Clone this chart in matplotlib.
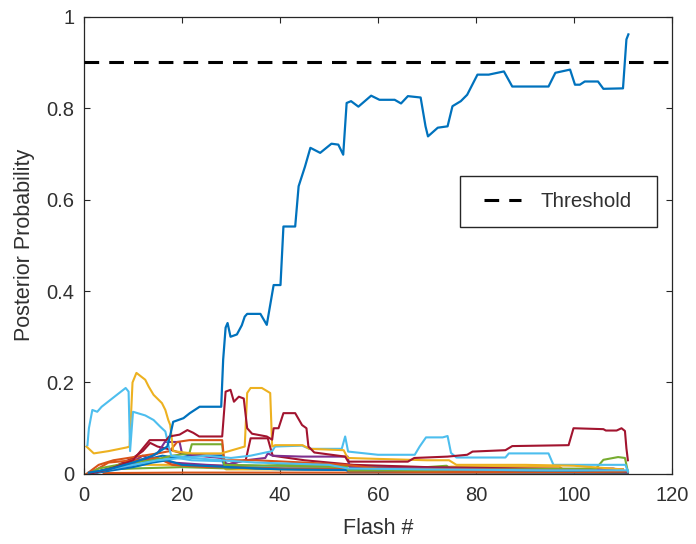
import numpy as np
import matplotlib
matplotlib.use("Agg")
import matplotlib.pyplot as plt
from matplotlib.patches import Rectangle

plt.rcParams['font.family'] = ['Liberation Sans', 'DejaVu Sans']

# MATLAB default line colours
C_BLUE = '#0072BD'
C_ORANGE = '#D95319'
C_YELLOW = '#EDB120'
C_PURPLE = '#7E2F8E'
C_GREEN = '#77AC30'
C_LBLUE = '#4DBEEE'
C_RED = '#A2142F'

threshold = 0.9

# target character posterior (flash #, probability)
target_x = [1, 5, 10, 14, 17, 17.6, 18.2, 20.3, 21.6, 23.6, 28.0, 28.4, 28.9, 29.3, 29.9,
            31.2, 32.2, 32.8, 33.3, 36.0, 37.3, 38.7, 40.1, 40.7, 43.1, 43.8, 45.1, 46.2,
            48.2, 50.5, 51.9, 52.9, 53.6, 54.5, 56.0, 58.6, 60.3, 63.4, 64.7, 66.1, 68.7,
            69.7, 70.2, 72.2, 74.2, 75.2, 76.9, 78.2, 80.3, 82.6, 85.7, 87.4, 94.8, 96.2,
            99.2, 100.2, 101.2, 102.2, 104.9, 106.0, 110.0, 110.7, 111.1]
target_y = [0.003, 0.01, 0.025, 0.04, 0.06, 0.085, 0.114, 0.122, 0.133, 0.147, 0.147, 0.25,
            0.32, 0.33, 0.30, 0.305, 0.325, 0.344, 0.35, 0.35, 0.326, 0.413, 0.413, 0.541,
            0.541, 0.629, 0.672, 0.713, 0.702, 0.722, 0.72, 0.698, 0.811, 0.815, 0.803, 0.827,
            0.818, 0.818, 0.81, 0.826, 0.823, 0.76, 0.738, 0.757, 0.76, 0.804, 0.815, 0.829,
            0.873, 0.873, 0.880, 0.847, 0.847, 0.877, 0.884, 0.851, 0.851, 0.858, 0.858,
            0.842, 0.843, 0.95, 0.961]

# non-target characters
lb1_x = [0.7, 1.0, 1.7, 2.7, 3.6, 6.7, 8.5, 9.1, 9.4, 10.0, 12.5, 14.2, 15.5, 16.6, 17.3,
         17.8, 22, 28, 35, 50, 53.9, 70, 95, 111]
lb1_y = [0.063, 0.10, 0.14, 0.136, 0.147, 0.173, 0.188, 0.18, 0.05, 0.136, 0.128, 0.118,
         0.104, 0.093, 0.06, 0.04, 0.035, 0.03, 0.025, 0.02, 0.012, 0.01, 0.008, 0.008]

lb2_x = [1, 5, 10, 15, 20, 25, 30, 34, 38.4, 39, 44.5, 46, 52.6, 53.3, 53.9, 60, 67.5, 68.5,
         69.8, 73.2, 74.2, 74.9, 76, 86, 86.7, 94.8, 95.8, 105, 110.5, 111]
lb2_y = [0.0, 0.01, 0.02, 0.03, 0.035, 0.04, 0.035, 0.04, 0.05, 0.06, 0.062, 0.055, 0.055,
         0.082, 0.049, 0.042, 0.042, 0.06, 0.08, 0.08, 0.083, 0.046, 0.036, 0.036, 0.045,
         0.045, 0.02, 0.02, 0.02, 0.005]

yl1_x = [0.5, 2, 5, 8.7, 9.3, 9.9, 10.7, 12.5, 13.2, 14.2, 15.9, 16.6, 17.2, 17.6, 18.2, 22,
         28, 32.8, 33.3, 34, 36.3, 38, 38.4, 39, 44.6, 46, 53, 53.8, 60, 70, 74.5, 76, 90,
         100, 110]
yl1_y = [0.06, 0.045, 0.05, 0.058, 0.06, 0.2, 0.221, 0.206, 0.191, 0.173, 0.155, 0.14, 0.118,
         0.107, 0.05, 0.045, 0.045, 0.06, 0.177, 0.188, 0.188, 0.177, 0.06, 0.063, 0.063,
         0.055, 0.052, 0.035, 0.033, 0.03, 0.03, 0.02, 0.02, 0.018, 0.01]

dr1_x = [1, 5, 10, 13.4, 16.8, 17.4, 19.5, 21.1, 22.3, 23.5, 28.2, 28.9, 29.9, 30.6, 31.6,
         32.6, 33.3, 34.3, 37.3, 38.4, 38.7, 39.7, 40.7, 43.1, 44.5, 45.4, 45.8, 47, 53.3,
         53.9, 66.1, 67.4, 74.2, 78.2, 79.3, 86, 87.4, 98.9, 99.9, 106, 106.5, 108.7, 109.7,
         110.4, 110.7, 111]
dr1_y = [0.0, 0.01, 0.03, 0.074, 0.074, 0.082, 0.086, 0.096, 0.09, 0.082, 0.082, 0.18, 0.184,
         0.158, 0.169, 0.165, 0.10, 0.088, 0.082, 0.075, 0.10, 0.10, 0.133, 0.133, 0.107,
         0.10, 0.06, 0.047, 0.038, 0.027, 0.027, 0.035, 0.038, 0.042, 0.049, 0.052, 0.061,
         0.063, 0.10, 0.098, 0.095, 0.095, 0.10, 0.094, 0.056, 0.03]

dr2_x = [1, 6, 10, 12, 13.5, 15, 17, 20, 25, 28.4, 29, 33, 34, 37.5, 38.5, 45, 55, 70, 90, 110]
dr2_y = [0.0, 0.015, 0.035, 0.05, 0.068, 0.06, 0.055, 0.045, 0.04, 0.04, 0.02, 0.03, 0.078,
         0.078, 0.04, 0.03, 0.02, 0.015, 0.012, 0.01]

or1_x = [4, 20, 40, 60, 80, 100, 111]
or1_y = [0.002, 0.003, 0.003, 0.003, 0.003, 0.003, 0.002]

or2_x = [0.5, 3, 6, 9, 12, 15, 17.5, 19, 21.5, 28.2, 28.6, 35, 45, 53.5, 60, 75, 100, 111]
or2_y = [0.0, 0.02, 0.03, 0.035, 0.04, 0.045, 0.05, 0.07, 0.074, 0.074, 0.03, 0.03, 0.025,
         0.02, 0.012, 0.01, 0.008, 0.006]

or3_x = [1, 5, 10, 15, 18, 25, 30, 40, 53.5, 54, 80, 111]
or3_y = [0.0, 0.025, 0.03, 0.035, 0.02, 0.015, 0.015, 0.012, 0.012, 0.005, 0.004, 0.004]

gr1_x = [0.5, 3, 7, 10, 14, 18, 21.5, 22, 28.2, 28.6, 40, 53.5, 54, 70, 104.5, 106, 109,
         110.4, 111]
gr1_y = [0.0, 0.012, 0.02, 0.025, 0.03, 0.04, 0.045, 0.065, 0.065, 0.02, 0.018, 0.015, 0.008,
         0.008, 0.012, 0.031, 0.037, 0.035, 0.005]

gr2_x = [1, 5, 10, 20, 30, 40, 50, 70, 74, 75, 90, 111]
gr2_y = [0.0, 0.01, 0.012, 0.015, 0.012, 0.02, 0.018, 0.015, 0.018, 0.01, 0.008, 0.006]

pu1_x = [1, 5, 10, 12, 15, 16.5, 19.5, 20, 23, 28, 29, 33, 37, 37.5, 38.5, 44.5, 45, 53.8,
         54.2, 70, 100, 104, 108, 111]
pu1_y = [0.0, 0.01, 0.02, 0.03, 0.045, 0.07, 0.07, 0.045, 0.04, 0.035, 0.02, 0.03, 0.035,
         0.045, 0.04, 0.038, 0.038, 0.038, 0.015, 0.012, 0.01, 0.012, 0.012, 0.004]

pu2_x = [1, 8, 12, 13, 16, 18, 25, 35, 50, 70, 90, 111]
pu2_y = [0.0, 0.015, 0.04, 0.035, 0.03, 0.025, 0.02, 0.015, 0.01, 0.006, 0.006, 0.004]

db2_x = [1, 8, 12, 16, 19, 21.5, 28.2, 28.6, 35, 45, 53.5, 54, 70, 100, 111]
db2_y = [0.0, 0.02, 0.03, 0.04, 0.035, 0.04, 0.04, 0.015, 0.012, 0.01, 0.01, 0.004, 0.004,
         0.003, 0.003]

db3_x = [1, 10, 14, 17, 20, 30, 40, 60, 75, 90, 111]
db3_y = [0.0, 0.015, 0.025, 0.03, 0.02, 0.015, 0.01, 0.008, 0.01, 0.008, 0.006]

lb3_x = [1, 5, 12, 15, 19, 22, 28, 30, 42, 50, 56, 70, 111]
lb3_y = [0.0, 0.01, 0.02, 0.03, 0.035, 0.03, 0.028, 0.02, 0.015, 0.012, 0.006, 0.005, 0.004]

yl2_x = [1, 6, 12, 20, 28, 29, 40, 60, 70, 75, 90, 97, 98, 111]
yl2_y = [0.0, 0.01, 0.02, 0.02, 0.018, 0.01, 0.01, 0.01, 0.012, 0.016, 0.016, 0.016, 0.008,
         0.006]

others = [
    (or1_x, or1_y, C_ORANGE),
    (yl2_x, yl2_y, C_YELLOW),
    (pu2_x, pu2_y, C_PURPLE),
    (gr2_x, gr2_y, C_GREEN),
    (lb3_x, lb3_y, C_LBLUE),
    (dr2_x, dr2_y, C_RED),
    (db2_x, db2_y, C_BLUE),
    (or3_x, or3_y, C_ORANGE),
    (db3_x, db3_y, C_BLUE),
    (pu1_x, pu1_y, C_PURPLE),
    (gr1_x, gr1_y, C_GREEN),
    (or2_x, or2_y, C_ORANGE),
    (lb2_x, lb2_y, C_LBLUE),
    (yl1_x, yl1_y, C_YELLOW),
    (lb1_x, lb1_y, C_LBLUE),
    (dr1_x, dr1_y, C_RED),
]

fig = plt.figure(figsize=(6.96, 5.44), dpi=100)
ax = fig.add_axes([0.1207, 0.1287, 0.8448, 0.8409])

for xs, ys, c in others:
    ax.plot(xs, ys, color=c, lw=1.5)
ax.plot(target_x, target_y, color=C_BLUE, lw=1.6, zorder=3)

ax.plot([0, 120], [threshold, threshold], color='k', lw=2.2,
        dashes=(4.8, 3.3), zorder=4, label='Threshold')

ax.set_xlim(0, 120)
ax.set_ylim(0, 1)
ax.set_xticks([0, 20, 40, 60, 80, 100, 120])
ax.set_yticks([0, 0.2, 0.4, 0.6, 0.8, 1])
ax.set_yticklabels(['0', '0.2', '0.4', '0.6', '0.8', '1'])

dark = '#303030'
for s in ax.spines.values():
    s.set_color('#262626')
    s.set_linewidth(0.9)
ax.tick_params(direction='in', top=True, right=True, length=4.5, width=0.8,
               colors='#262626', labelcolor=dark, labelsize=14.5)
ax.tick_params(axis='x', pad=9)
ax.tick_params(axis='y', pad=7)

ax.set_xlabel('Flash #', fontsize=15.5, color=dark, labelpad=9)
ax.set_ylabel('Posterior Probability', fontsize=15.5, color=dark, labelpad=8)

# legend with a hand-placed frame
ax.add_patch(Rectangle((0.639, 0.540), 0.335, 0.1115, transform=ax.transAxes,
                       facecolor='white', edgecolor='#262626', lw=1.0, zorder=5))
leg = ax.legend(loc='center left', bbox_to_anchor=(0.680, 0.596), frameon=False,
                fontsize=14.8, handlelength=1.8, handletextpad=0.95, borderpad=0,
                borderaxespad=0)
leg.set_zorder(6)
for t in leg.get_texts():
    t.set_color(dark)

fig.savefig('out.png', dpi=100)
